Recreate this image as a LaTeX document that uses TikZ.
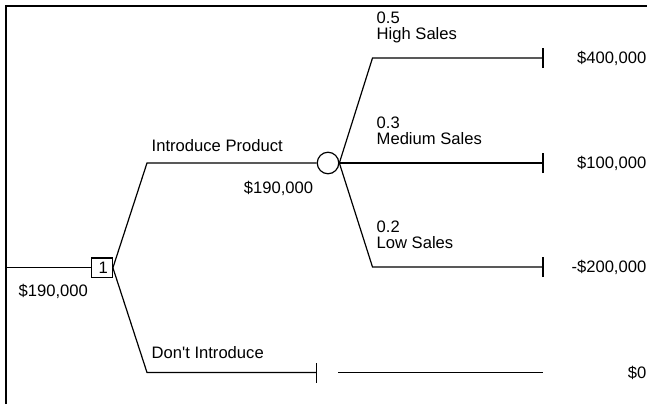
\documentclass[tikz,border=0pt]{standalone}
\usepackage{fontspec}
\setmainfont{Liberation Sans}
\begin{document}
\begin{tikzpicture}[x=1pt,y=-1pt,
  txt/.style={inner sep=0pt,font=\fontsize{16.6}{19}\selectfont},
  tree/.style={line width=1.2pt},
  border/.style={line width=2.2pt},
  decbox/.style={draw,line width=1.2pt,minimum width=21pt,minimum height=19.5pt,inner sep=0pt,font=\fontsize{16.6}{19}\selectfont},
  chance/.style={draw,circle,line width=1.2pt,minimum size=21.5pt,inner sep=0pt},
  tick/.style={line width=1.2pt}]
\useasboundingbox (0,0) rectangle (647,404);
% frame
\coordinate (bl) at (6.3,404);
\coordinate (tl) at (6.3,6.3);
\coordinate (tr) at (647,6.3);
\draw[border] (bl) -- (tl) -- (tr);
% root
\coordinate (rootstart) at (6.3,267.8);
\node[decbox] (dec) at (101.8,267.8) {\hspace*{3pt}1};
\draw[tree] (rootstart) -- (dec.west);
\node[txt,anchor=base west] (rootval) at (18.5,296) {\$190,000};
% introduce branch
\coordinate (up) at (147,163);
\node[chance] (ch) at (328,163) {};
\draw[tree] (dec.east) -- (up) -- (ch.west);
\node[txt,anchor=base west] (intro) at (151.5,151) {Introduce Product};
\node[txt,anchor=base east] (chval) at (313.3,193) {\$190,000};
% chance branches
\coordinate (hc) at (372.5,58);
\coordinate (ht) at (543,58);
\coordinate (mt) at (543,163);
\coordinate (lc) at (372.5,267);
\coordinate (lt) at (543,267);
\draw[tree] (ch.east) -- (hc) -- (ht);
\draw[tree] (ch.east) -- (mt);
\draw[tree] (ch.east) -- (lc) -- (lt);
\foreach \t in {ht,mt,lt}{\draw[tick] ([yshift=-10pt]\t) -- ([yshift=10pt]\t);}
\node[txt,anchor=base west] (p1) at (376.5,23.3) {0.5};
\node[txt,anchor=base west] (n1) at (376.5,39.3) {High Sales};
\node[txt,anchor=base west] (p2) at (376.5,128.3) {0.3};
\node[txt,anchor=base west] (n2) at (376.5,144.3) {Medium Sales};
\node[txt,anchor=base west] (p3) at (376.5,232.5) {0.2};
\node[txt,anchor=base west] (n3) at (376.5,248.5) {Low Sales};
\node[txt,anchor=base east] (v1) at (646.5,63.8) {\$400,000};
\node[txt,anchor=base east] (v2) at (646.5,168.8) {\$100,000};
\node[txt,anchor=base east] (v3) at (646.5,272.8) {-\$200,000};
% don't introduce branch
\coordinate (dn) at (147,372.5);
\coordinate (dt) at (316.7,372.5);
\coordinate (d2a) at (338.3,372.5);
\coordinate (d2b) at (543,372.5);
\draw[tree] (dec.east) -- (dn) -- (dt);
\draw[tick] ([yshift=-10pt]dt) -- ([yshift=10pt]dt);
\draw[tree] (d2a) -- (d2b);
\node[txt,anchor=base west] (dont) at (151.5,358.5) {Don\textquotesingle t Introduce};
\node[txt,anchor=base east] (v4) at (646.5,378.3) {\$0};
\end{tikzpicture}
\end{document}
